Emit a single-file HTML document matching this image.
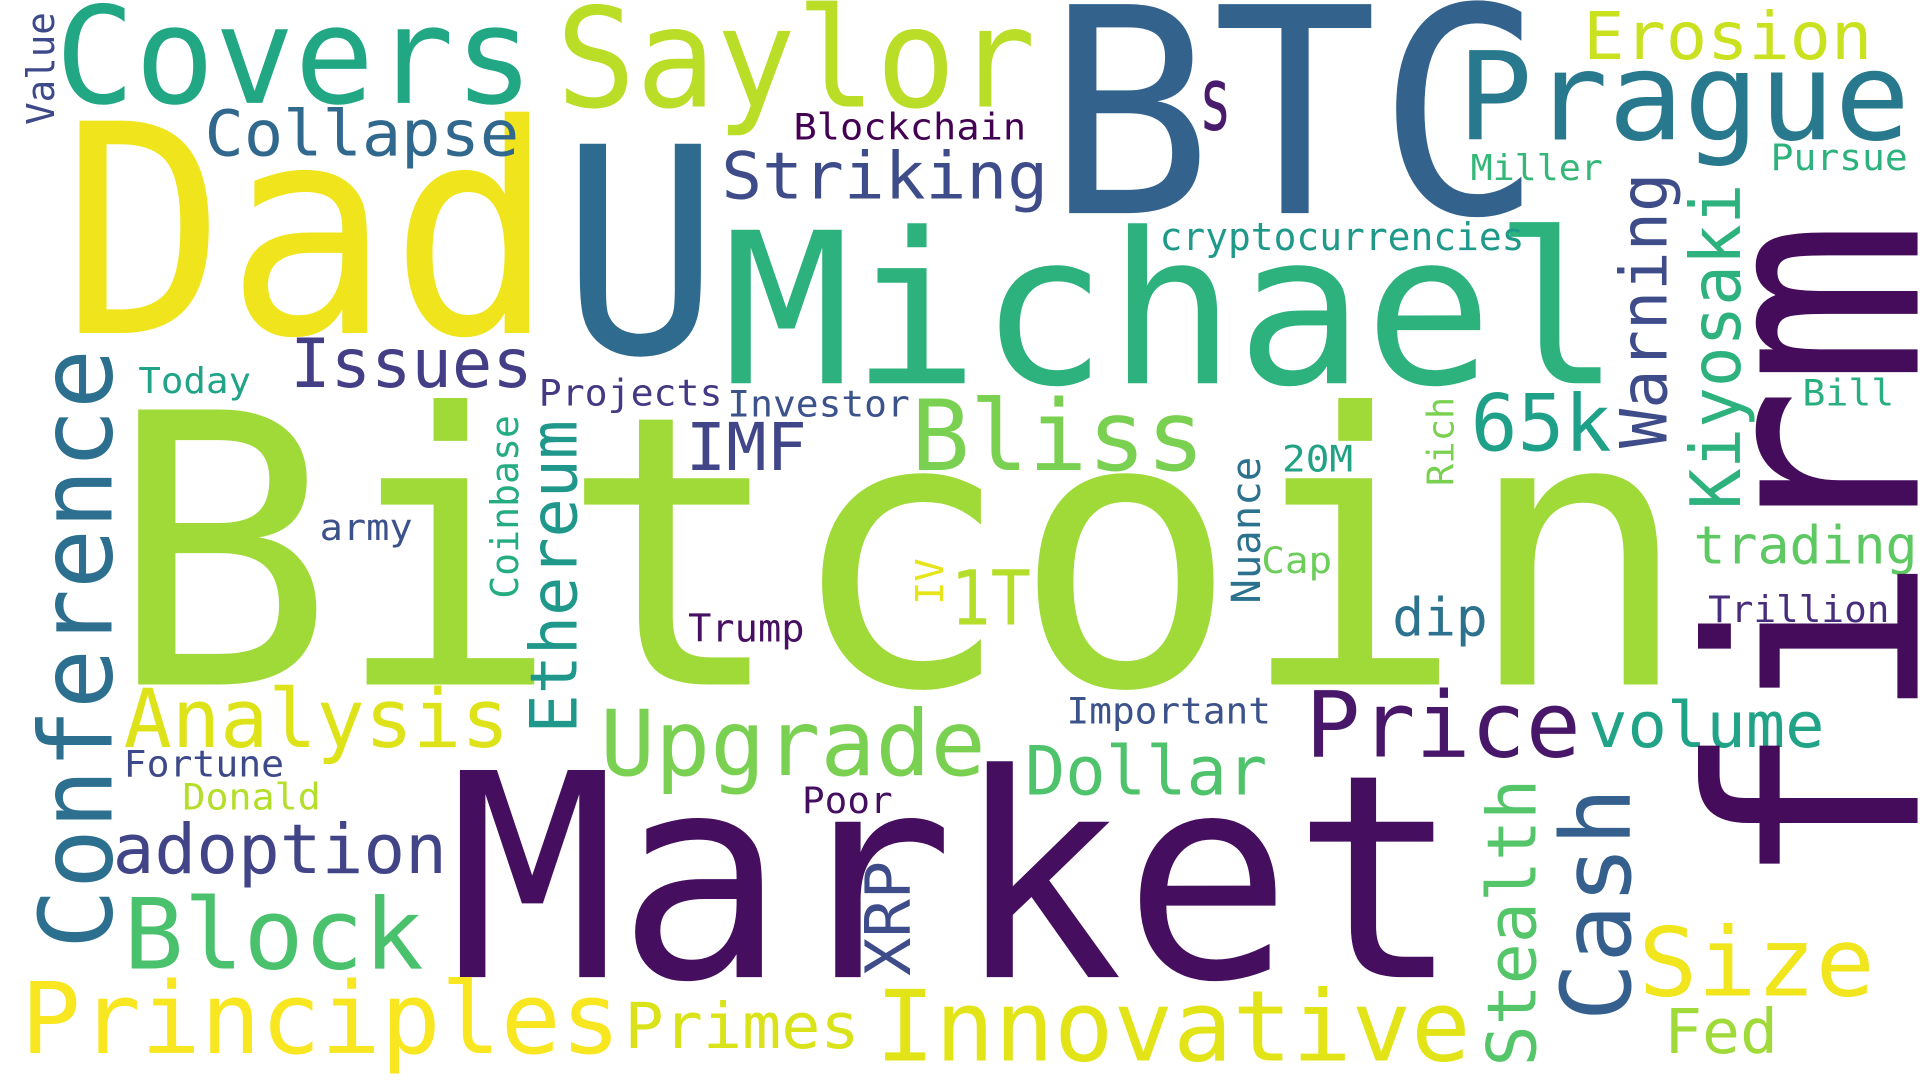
<!DOCTYPE html>
<html><head><meta charset="utf-8"><title>Bitcoin word cloud</title>
<style>
html,body{margin:0;padding:0;background:#fff;}
svg{display:block;}
text{font-family:"DejaVu Sans Mono","Liberation Mono",monospace;}
</style></head>
<body>
<svg width="1920" height="1080" viewBox="0 0 1568 882" preserveAspectRatio="none" xmlns="http://www.w3.org/2000/svg">
<rect width="1568" height="882" fill="#ffffff"/>
<!-- horizontal words: x = left, y = baseline -->
<text x="88" y="559" font-size="308" fill="#a0da39" textLength="1293" lengthAdjust="spacingAndGlyphs">Bitcoin</text>
<text x="366" y="798" font-size="232" fill="#450e5e" textLength="827" lengthAdjust="spacingAndGlyphs">Market</text>
<text x="855" y="174" font-size="234" fill="#33638d" textLength="405" lengthAdjust="spacingAndGlyphs">BTC</text>
<text x="50" y="272" font-size="238" fill="#f0e51d" textLength="403" lengthAdjust="spacingAndGlyphs">Dad</text>
<text x="458" y="288" font-size="234" fill="#2f6b8e" textLength="130" lengthAdjust="spacingAndGlyphs">U</text>
<text x="590" y="313" font-size="172" fill="#2db27d" textLength="734" lengthAdjust="spacingAndGlyphs">Michael</text>
<text x="45" y="84" font-size="110" fill="#22a785" textLength="391" lengthAdjust="spacingAndGlyphs">Covers</text>
<text x="454" y="87" font-size="113" fill="#bade28" textLength="392" lengthAdjust="spacingAndGlyphs">Saylor</text>
<text x="1190" y="114" font-size="100" fill="#29798e" textLength="370" lengthAdjust="spacingAndGlyphs">Prague</text>
<text x="1293" y="48" font-size="54" fill="#cae11f" textLength="236" lengthAdjust="spacingAndGlyphs">Erosion</text>
<text x="167" y="127" font-size="52" fill="#31688e" textLength="257" lengthAdjust="spacingAndGlyphs">Collapse</text>
<text x="979" y="106" font-size="72" fill="#481b6d" textLength="27" lengthAdjust="spacingAndGlyphs">s</text>
<text x="648" y="114" font-size="30" fill="#440154" textLength="190" lengthAdjust="spacingAndGlyphs">Blockchain</text>
<text x="589" y="162" font-size="53" fill="#3e4c8a" textLength="267" lengthAdjust="spacingAndGlyphs">Striking</text>
<text x="1201" y="147" font-size="29" fill="#35b779" textLength="108" lengthAdjust="spacingAndGlyphs">Miller</text>
<text x="1446" y="139" font-size="30" fill="#2db27d" textLength="112" lengthAdjust="spacingAndGlyphs">Pursue</text>
<text x="947" y="204" font-size="31" fill="#1f9a8a" textLength="298" lengthAdjust="spacingAndGlyphs">cryptocurrencies</text>
<text x="237" y="316" font-size="55" fill="#433e85" textLength="198" lengthAdjust="spacingAndGlyphs">Issues</text>
<text x="113" y="321" font-size="29" fill="#20a386" textLength="92" lengthAdjust="spacingAndGlyphs">Today</text>
<text x="440" y="331" font-size="30" fill="#443983" textLength="150" lengthAdjust="spacingAndGlyphs">Projects</text>
<text x="594" y="340" font-size="30" fill="#3b528b" textLength="149" lengthAdjust="spacingAndGlyphs">Investor</text>
<text x="560" y="384" font-size="54" fill="#404688" textLength="99" lengthAdjust="spacingAndGlyphs">IMF</text>
<text x="744" y="384" font-size="80" fill="#7ad151" textLength="240" lengthAdjust="spacingAndGlyphs">Bliss</text>
<text x="1201" y="368" font-size="64" fill="#1fa088" textLength="115" lengthAdjust="spacingAndGlyphs">65k</text>
<text x="1472" y="331" font-size="30" fill="#29af7f" textLength="75" lengthAdjust="spacingAndGlyphs">Bill</text>
<text x="1047" y="385" font-size="30" fill="#22a284" textLength="58" lengthAdjust="spacingAndGlyphs">20M</text>
<text x="261" y="441" font-size="30" fill="#3b528b" textLength="76" lengthAdjust="spacingAndGlyphs">army</text>
<text x="1030" y="468" font-size="30" fill="#6ccd5a" textLength="58" lengthAdjust="spacingAndGlyphs">Cap</text>
<text x="776" y="510" font-size="62" fill="#b5de2b" textLength="66" lengthAdjust="spacingAndGlyphs">1T</text>
<text x="1383" y="460" font-size="43" fill="#5ec962" textLength="183" lengthAdjust="spacingAndGlyphs">trading</text>
<text x="1137" y="519" font-size="43" fill="#2c728e" textLength="78" lengthAdjust="spacingAndGlyphs">dip</text>
<text x="1395" y="508" font-size="30" fill="#472d7b" textLength="148" lengthAdjust="spacingAndGlyphs">Trillion</text>
<text x="562" y="524" font-size="31" fill="#471063" textLength="95" lengthAdjust="spacingAndGlyphs">Trump</text>
<text x="101" y="610" font-size="66" fill="#dde318" textLength="315" lengthAdjust="spacingAndGlyphs">Analysis</text>
<text x="490" y="633" font-size="74" fill="#7ad151" textLength="315" lengthAdjust="spacingAndGlyphs">Upgrade</text>
<text x="1066" y="618" font-size="74" fill="#481769" textLength="225" lengthAdjust="spacingAndGlyphs">Price</text>
<text x="1297" y="610" font-size="52" fill="#20a386" textLength="193" lengthAdjust="spacingAndGlyphs">volume</text>
<text x="871" y="591" font-size="30" fill="#3b528b" textLength="167" lengthAdjust="spacingAndGlyphs">Important</text>
<text x="837" y="649" font-size="55" fill="#4ec36b" textLength="198" lengthAdjust="spacingAndGlyphs">Dollar</text>
<text x="101" y="634" font-size="30" fill="#3e4989" textLength="131" lengthAdjust="spacingAndGlyphs">Fortune</text>
<text x="149" y="661" font-size="30" fill="#b5de2b" textLength="113" lengthAdjust="spacingAndGlyphs">Donald</text>
<text x="655" y="664" font-size="30" fill="#440f5e" textLength="74" lengthAdjust="spacingAndGlyphs">Poor</text>
<text x="92" y="713" font-size="56" fill="#414487" textLength="273" lengthAdjust="spacingAndGlyphs">adoption</text>
<text x="101" y="791" font-size="80" fill="#4ac16d" textLength="245" lengthAdjust="spacingAndGlyphs">Block</text>
<text x="17" y="860" font-size="81" fill="#f8e621" textLength="490" lengthAdjust="spacingAndGlyphs">Principles</text>
<text x="510" y="856" font-size="52" fill="#dae319" textLength="192" lengthAdjust="spacingAndGlyphs">Primes</text>
<text x="715" y="866" font-size="80" fill="#e2e418" textLength="486" lengthAdjust="spacingAndGlyphs">Innovative</text>
<text x="1338" y="813" font-size="78" fill="#f1e51d" textLength="193" lengthAdjust="spacingAndGlyphs">Size</text>
<text x="1359" y="860" font-size="50" fill="#9fda3a" textLength="93" lengthAdjust="spacingAndGlyphs">Fed</text>
<!-- vertical words: translate(baselineX, bottomY) rotate(-90) -->
<text transform="translate(1566,727) rotate(-90)" font-size="236" fill="#450c5b" textLength="548" lengthAdjust="spacingAndGlyphs">firm</text>
<text transform="translate(91,775) rotate(-90)" font-size="82" fill="#2c6f8e" textLength="490" lengthAdjust="spacingAndGlyphs">Conference</text>
<text transform="translate(44,102) rotate(-90)" font-size="31" fill="#3e4989" textLength="92" lengthAdjust="spacingAndGlyphs">Value</text>
<text transform="translate(1361,366) rotate(-90)" font-size="53" fill="#3e4c8a" textLength="225" lengthAdjust="spacingAndGlyphs">Warning</text>
<text transform="translate(1421,416) rotate(-90)" font-size="57" fill="#2db27d" textLength="266" lengthAdjust="spacingAndGlyphs">Kiyosaki</text>
<text transform="translate(1187,397) rotate(-90)" font-size="30" fill="#7ad151" textLength="73" lengthAdjust="spacingAndGlyphs">Rich</text>
<text transform="translate(1029,493) rotate(-90)" font-size="33" fill="#2c728e" textLength="120" lengthAdjust="spacingAndGlyphs">Nuance</text>
<text transform="translate(423,489) rotate(-90)" font-size="31" fill="#25ac82" textLength="150" lengthAdjust="spacingAndGlyphs">Coinbase</text>
<text transform="translate(471,599) rotate(-90)" font-size="53" fill="#1f988b" textLength="256" lengthAdjust="spacingAndGlyphs">Ethereum</text>
<text transform="translate(770,494) rotate(-90)" font-size="31" fill="#e7e419" textLength="38" lengthAdjust="spacingAndGlyphs">IV</text>
<text transform="translate(743,797) rotate(-90)" font-size="51" fill="#3e4c8a" textLength="94" lengthAdjust="spacingAndGlyphs">XRP</text>
<text transform="translate(1254,871) rotate(-90)" font-size="55" fill="#54c568" textLength="235" lengthAdjust="spacingAndGlyphs">Stealth</text>
<text transform="translate(1331,834) rotate(-90)" font-size="79" fill="#355f8d" textLength="191" lengthAdjust="spacingAndGlyphs">Cash</text>
</svg>
</body></html>
